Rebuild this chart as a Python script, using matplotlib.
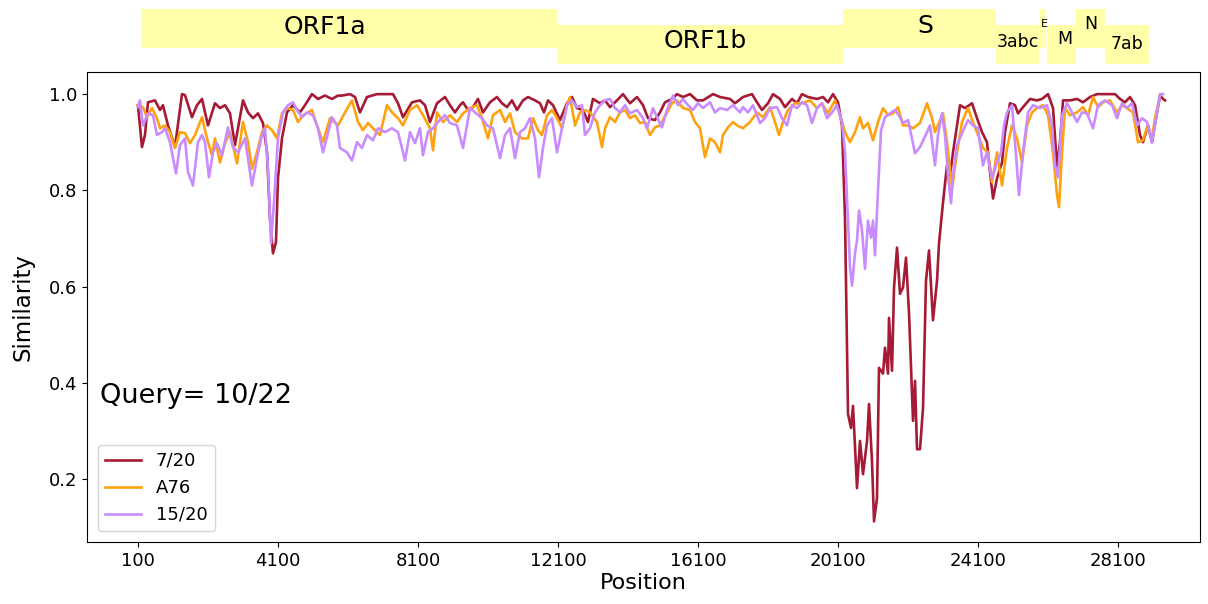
import matplotlib
matplotlib.use("Agg")
import matplotlib.pyplot as plt

# similarity values
pos_720 = [100, 214, 300, 386, 586, 729, 814, 957, 1157, 1357, 1443, 1643, 1786, 1929, 2100, 2300, 2443, 2586, 2729, 2871,
           3100, 3243, 3386, 3529, 3671, 3786, 3871, 3957, 4043, 4100, 4214, 4357, 4529, 4729, 4871, 5071, 5243, 5443, 5643, 5814,
           5929, 6157, 6300, 6443, 6643, 6929, 7386, 7529, 7671, 7929, 8157, 8300, 8443, 8643, 8871, 9014, 9157, 9300, 9386, 9529,
           9671, 9814, 9957, 10157, 10357, 10500, 10643, 10786, 10929, 11100, 11243, 11443, 11586, 11700, 11814, 11957, 12157, 12357, 12500, 12643,
           12814, 12957, 13100, 13300, 13443, 13586, 13786, 13957, 14157, 14357, 14529, 14671, 14871, 15014, 15157, 15357, 15500, 15671, 15871, 16071,
           16243, 16529, 16729, 17014, 17157, 17386, 17643, 17786, 17929, 18100, 18243, 18443, 18586, 18786, 18929, 19071, 19243, 19500, 19671, 19814,
           19957, 20100, 20214, 20300, 20386, 20471, 20529, 20643, 20729, 20814, 20929, 20986, 21071, 21129, 21214, 21271, 21386, 21443, 21529, 21557,
           21643, 21700, 21786, 21871, 21957, 22043, 22129, 22243, 22300, 22357, 22443, 22529, 22614, 22700, 22814, 22929, 22986, 23100, 23214, 23300,
           23386, 23500, 23586, 23729, 23929, 24071, 24214, 24357, 24443, 24529, 24643, 24786, 24871, 25014, 25157, 25243, 25386, 25586, 25786, 25929,
           26100, 26243, 26357, 26443, 26529, 26729, 26929, 27100, 27300, 27500, 27786, 28014, 28157, 28300, 28443, 28586, 28729, 28814, 28957, 29071,
           29214, 29300, 29386, 29443]
sim_720 = [0.977, 0.89, 0.915, 0.983, 0.987, 0.967, 0.977, 0.935, 0.89, 1.0, 0.998, 0.952, 0.977, 0.99, 0.935, 0.981, 0.971, 0.977, 0.96, 0.894,
           0.987, 0.962, 0.95, 0.96, 0.94, 0.88, 0.742, 0.669, 0.692, 0.825, 0.908, 0.962, 0.977, 0.962, 0.977, 1.0, 0.99, 0.997, 0.99, 0.997,
           0.997, 1.0, 0.994, 0.962, 0.994, 1.0, 1.0, 0.981, 0.952, 0.983, 0.987, 0.977, 0.942, 0.981, 0.994, 0.977, 0.962, 0.977, 0.983, 0.967,
           0.973, 0.99, 0.962, 0.983, 0.994, 0.981, 0.973, 0.987, 0.967, 0.987, 0.994, 0.987, 0.981, 0.962, 0.987, 0.977, 0.946, 0.981, 0.994, 0.971,
           0.967, 0.942, 0.99, 0.981, 0.987, 0.973, 0.987, 1.0, 0.981, 0.994, 0.977, 0.95, 0.946, 0.962, 0.983, 0.99, 1.0, 0.994, 1.0, 0.987,
           0.987, 1.0, 0.994, 0.99, 0.981, 0.994, 1.0, 0.983, 0.967, 0.981, 1.0, 0.99, 0.973, 0.99, 0.981, 1.0, 0.994, 0.99, 0.994, 0.983,
           1.0, 0.983, 0.935, 0.742, 0.335, 0.306, 0.352, 0.181, 0.279, 0.21, 0.279, 0.356, 0.237, 0.112, 0.16, 0.431, 0.419, 0.473, 0.419, 0.535,
           0.425, 0.598, 0.681, 0.585, 0.598, 0.66, 0.544, 0.321, 0.404, 0.262, 0.262, 0.348, 0.612, 0.675, 0.53, 0.612, 0.69, 0.775, 0.852, 0.831,
           0.879, 0.935, 0.977, 0.971, 0.981, 0.95, 0.921, 0.9, 0.838, 0.783, 0.825, 0.858, 0.921, 0.981, 0.977, 0.96, 0.973, 0.99, 0.987, 0.99,
           1.0, 0.971, 0.85, 0.9, 0.987, 0.987, 0.99, 0.983, 0.994, 1.0, 1.0, 1.0, 0.99, 0.983, 0.994, 0.977, 0.915, 0.9, 0.935, 0.9,
           0.962, 0.997, 0.99, 0.987]

pos_a76 = [100, 243, 357, 500, 643, 729, 871, 1014, 1157, 1300, 1443, 1586, 1729, 1929, 2071, 2214, 2300, 2443, 2586, 2729,
           2929, 3100, 3243, 3357, 3500, 3643, 3786, 3929, 4071, 4214, 4357, 4529, 4671, 4814, 5071, 5243, 5386, 5586, 5814, 6014,
           6214, 6386, 6529, 6671, 6814, 7014, 7214, 7357, 7529, 7671, 7871, 8071, 8243, 8443, 8529, 8643, 8814, 9014, 9214, 9386,
           9586, 9786, 9929, 10100, 10243, 10443, 10586, 10729, 10871, 11071, 11243, 11386, 11529, 11643, 11786, 11929, 12071, 12214, 12357, 12443,
           12586, 12729, 12871, 13014, 13214, 13357, 13443, 13586, 13729, 13871, 14014, 14157, 14300, 14443, 14586, 14729, 14871, 15014, 15214, 15357,
           15500, 15671, 15871, 16014, 16157, 16300, 16443, 16586, 16729, 16814, 16957, 17100, 17214, 17386, 17586, 17786, 17957, 18157, 18300, 18414,
           18529, 18671, 18871, 19071, 19300, 19500, 19643, 19814, 20014, 20157, 20300, 20443, 20586, 20729, 20814, 20957, 21100, 21243, 21386, 21529,
           21671, 21814, 21957, 22100, 22243, 22443, 22643, 22786, 22871, 23100, 23214, 23357, 23500, 23643, 23814, 23957, 24100, 24243, 24386, 24500,
           24643, 24786, 24929, 25071, 25214, 25357, 25500, 25643, 25786, 25957, 26100, 26243, 26357, 26414, 26500, 26586, 26729, 26929, 27100, 27243,
           27386, 27529, 27671, 27871, 28071, 28214, 28357, 28529, 28671, 28814, 28929, 29071, 29157, 29300]
sim_a76 = [0.977, 0.973, 0.952, 0.971, 0.95, 0.929, 0.935, 0.921, 0.888, 0.921, 0.919, 0.898, 0.915, 0.952, 0.908, 0.873, 0.908, 0.858, 0.898, 0.921,
           0.856, 0.942, 0.9, 0.845, 0.879, 0.921, 0.935, 0.925, 0.908, 0.96, 0.971, 0.967, 0.942, 0.956, 0.967, 0.929, 0.9, 0.95, 0.935, 0.962,
           0.987, 0.942, 0.925, 0.94, 0.929, 0.915, 0.977, 0.962, 0.95, 0.935, 0.967, 0.977, 0.956, 0.929, 0.883, 0.962, 0.942, 0.956, 0.942, 0.96,
           0.971, 0.977, 0.95, 0.908, 0.956, 0.967, 0.942, 0.96, 0.921, 0.908, 0.908, 0.95, 0.925, 0.915, 0.956, 0.967, 0.95, 0.929, 0.977, 0.994,
           0.935, 0.962, 0.967, 0.962, 0.942, 0.89, 0.929, 0.952, 0.942, 0.962, 0.967, 0.95, 0.956, 0.94, 0.942, 0.915, 0.931, 0.935, 0.962, 0.981,
           0.987, 0.971, 0.967, 0.942, 0.929, 0.869, 0.908, 0.9, 0.879, 0.915, 0.931, 0.942, 0.935, 0.929, 0.942, 0.962, 0.952, 0.973, 0.942, 0.915,
           0.942, 0.967, 0.981, 0.981, 0.987, 0.971, 0.981, 0.96, 0.987, 0.956, 0.921, 0.9, 0.921, 0.952, 0.929, 0.94, 0.904, 0.942, 0.971, 0.956,
           0.96, 0.973, 0.935, 0.935, 0.929, 0.94, 0.981, 0.95, 0.921, 0.96, 0.9, 0.804, 0.879, 0.942, 0.971, 0.942, 0.915, 0.888, 0.879, 0.817,
           0.879, 0.81, 0.888, 0.935, 0.908, 0.858, 0.935, 0.962, 0.971, 0.977, 0.956, 0.879, 0.79, 0.765, 0.879, 0.971, 0.956, 0.962, 0.973, 0.956,
           0.994, 0.973, 0.983, 0.987, 0.962, 0.977, 0.971, 0.962, 0.9, 0.904, 0.931, 0.91, 0.95, 0.997]

pos_1520 = [100, 157, 243, 386, 529, 643, 786, 871, 1014, 1186, 1300, 1443, 1529, 1671, 1814, 1929, 2014, 2129, 2243, 2357,
            2500, 2671, 2814, 2957, 3157, 3357, 3500, 3643, 3729, 3814, 3900, 3986, 4100, 4243, 4386, 4529, 4643, 4786, 4929, 5100,
            5243, 5386, 5529, 5643, 5786, 5871, 6071, 6214, 6357, 6500, 6643, 6814, 6957, 7157, 7357, 7529, 7729, 7871, 8014, 8157,
            8243, 8386, 8529, 8671, 8871, 9014, 9214, 9386, 9586, 9729, 9929, 10071, 10243, 10443, 10586, 10729, 10871, 11014, 11157, 11300,
            11443, 11557, 11671, 11786, 11929, 12071, 12214, 12357, 12500, 12643, 12786, 12871, 13014, 13157, 13300, 13443, 13586, 13729, 13871, 14014,
            14157, 14357, 14529, 14643, 14814, 14929, 15071, 15214, 15386, 15529, 15671, 15814, 15957, 16100, 16243, 16443, 16586, 16729, 16929, 17100,
            17300, 17386, 17529, 17671, 17871, 18014, 18157, 18357, 18500, 18643, 18786, 18929, 19071, 19214, 19357, 19500, 19643, 19786, 19929, 20071,
            20214, 20300, 20357, 20443, 20500, 20586, 20643, 20700, 20786, 20871, 20957, 21043, 21100, 21157, 21243, 21329, 21443, 21586, 21729, 21871,
            21957, 22100, 22214, 22300, 22443, 22643, 22729, 22871, 22957, 23071, 23157, 23243, 23329, 23386, 23500, 23643, 23814, 23957, 24100, 24243,
            24357, 24500, 24643, 24757, 24843, 24929, 25071, 25186, 25271, 25386, 25529, 25671, 25871, 26071, 26214, 26300, 26386, 26500, 26643, 26786,
            26929, 27071, 27214, 27386, 27529, 27729, 27929, 28071, 28214, 28357, 28500, 28643, 28786, 28929, 29071, 29214, 29300, 29386]
sim_1520 = [0.973, 0.987, 0.935, 0.96, 0.956, 0.915, 0.921, 0.929, 0.9, 0.835, 0.894, 0.908, 0.838, 0.81, 0.9, 0.915, 0.9, 0.827, 0.879, 0.898,
            0.873, 0.931, 0.89, 0.879, 0.908, 0.81, 0.867, 0.915, 0.929, 0.846, 0.69, 0.775, 0.908, 0.962, 0.977, 0.983, 0.967, 0.952, 0.962, 0.956,
            0.929, 0.879, 0.919, 0.952, 0.935, 0.888, 0.879, 0.862, 0.9, 0.888, 0.915, 0.904, 0.929, 0.921, 0.929, 0.921, 0.862, 0.921, 0.898, 0.929,
            0.873, 0.921, 0.929, 0.942, 0.956, 0.94, 0.935, 0.888, 0.971, 0.962, 0.95, 0.935, 0.929, 0.867, 0.915, 0.929, 0.867, 0.921, 0.929, 0.95,
            0.908, 0.827, 0.888, 0.935, 0.95, 0.879, 0.929, 0.977, 0.987, 0.973, 0.977, 0.915, 0.929, 0.962, 0.977, 0.987, 0.99, 0.971, 0.962, 0.977,
            0.96, 0.967, 0.95, 0.929, 0.971, 0.952, 0.931, 0.967, 0.997, 0.977, 0.99, 0.977, 0.967, 0.981, 0.971, 0.983, 0.962, 0.971, 0.967, 0.977,
            0.962, 0.973, 0.962, 0.977, 0.94, 0.95, 0.971, 0.973, 0.95, 0.935, 0.977, 0.971, 0.983, 0.977, 0.94, 0.971, 0.981, 0.95, 0.962, 0.977,
            0.942, 0.879, 0.785, 0.64, 0.602, 0.669, 0.696, 0.758, 0.717, 0.637, 0.737, 0.702, 0.737, 0.665, 0.8, 0.925, 0.952, 0.96, 0.967, 0.952,
            0.94, 0.946, 0.908, 0.877, 0.89, 0.921, 0.935, 0.852, 0.915, 0.96, 0.915, 0.831, 0.773, 0.831, 0.894, 0.919, 0.946, 0.935, 0.929, 0.852,
            0.879, 0.825, 0.858, 0.879, 0.935, 0.962, 0.977, 0.873, 0.79, 0.879, 0.962, 0.977, 0.971, 0.977, 0.935, 0.852, 0.827, 0.956, 0.981, 0.962,
            0.942, 0.962, 0.96, 0.929, 0.977, 0.987, 0.977, 0.95, 0.981, 0.971, 0.981, 0.935, 0.95, 0.942, 0.9, 0.962, 1.0, 1.0]

# genome annotation (row 0 = upper strip, row 1 = lower strip)
gene_names = ["ORF1a", "ORF1b", "S", "3abc", "E", "M", "N", "7ab"]
gene_start = [186, 12071, 20243, 24614, 25871, 26071, 26900, 27729]
gene_end = [12071, 20243, 24614, 25843, 26043, 26900, 27729, 28986]
gene_row = [0, 1, 0, 1, 0, 1, 0, 1]
gene_label_x = [5440, 16300, 22590, 25250, 25990, 26570, 27320, 28370]
gene_label_y = [45, 31, 46, 30, 48, 33, 48, 28]
gene_fontsize = [18, 18, 18, 12.5, 8, 12.5, 12.5, 12.5]

xticks = [100, 4100, 8100, 12100, 16100, 20100, 24100, 28100]
yticks = [0.2, 0.4, 0.6, 0.8, 1.0]

fig = plt.figure(figsize=(12.08, 6.04), dpi=100)
ax = fig.add_axes([0.072, 0.1026, 0.9214, 0.7782])
ax.plot(pos_720, sim_720, color="#a51a34", lw=1.9, label="7/20")
ax.plot(pos_a76, sim_a76, color="#ffa210", lw=1.9, label="A76")
ax.plot(pos_1520, sim_1520, color="#c98cff", lw=1.9, label="15/20")
ax.set_xlim(-1357, 30443)
ax.set_ylim(0.069, 1.046)
ax.set_xticks(xticks)
ax.set_yticks(yticks)
ax.tick_params(labelsize=13)
ax.set_xlabel("Position", fontsize=16, labelpad=2)
ax.set_ylabel("Similarity", fontsize=16.5, labelpad=10)
ax.text(0.012, 0.31, "Query= 10/22", transform=ax.transAxes, fontsize=19.5, va="center")
ax.legend(loc="lower left", fontsize=13, borderaxespad=0.6)

gx = fig.add_axes([0.072, 0.8808, 0.9214, 0.1192])
gx.set_xlim(-1357, 30443)
gx.set_ylim(0, 72)
gx.axis("off")
row_bottom = [24, 8]
for name, s, e, r, lx, ly, fs in zip(gene_names, gene_start, gene_end, gene_row, gene_label_x, gene_label_y, gene_fontsize):
    gx.bar(s, 38.5, width=e - s, bottom=row_bottom[r], align="edge", color="#ffffaa", lw=0)
    gx.text(lx, ly, name, ha="center", va="center", fontsize=fs)

fig.savefig("out.png", dpi=100)
